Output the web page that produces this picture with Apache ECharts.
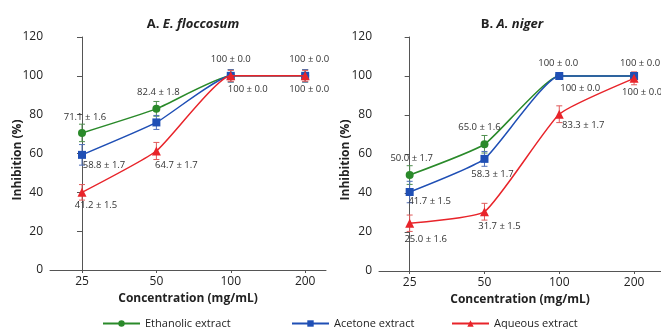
<!DOCTYPE html>
<html>
<head>
<meta charset="utf-8">
<script src="https://cdn.jsdelivr.net/npm/echarts@6/dist/echarts.min.js"></script>
<style>
    html, body { margin: 0; padding: 0; background: #fff; }
    #main { width: 661px; height: 329px; }
</style>
</head>
<body>
<div id="main"></div>
<script>
var concentrations = ['25', '50', '100', '200'];
var names = ['Ethanolic extract', 'Acetone extract', 'Aqueous extract'];

// A. E. floccosum
var ethA = [70.6, 83.0, 100, 100];
var aceA = [59.3, 76.0, 100, 100];
var aquA = [40.0, 61.3, 100, 100];
var ethAErr = [4.5, 3.8, 3.2, 3.2];
var aceAErr = [5.3, 3.6, 3.2, 3.2];
var aquAErr = [4.0, 4.4, 2.8, 2.8];
var ethALbl = ['71.1 ± 1.6', '82.4 ± 1.8', '100 ± 0.0', '100 ± 0.0'];
var aceALbl = ['58.8 ± 1.7', '', '100 ± 0.0', '100 ± 0.0'];
var aquALbl = ['41.2 ± 1.5', '64.7 ± 1.7', '', ''];

// B. A. niger
var ethB = [49.2, 65.0, 100, 100];
var aceB = [40.5, 57.5, 100, 100];
var aquB = [24.5, 30.4, 80.4, 98.8];
var ethBErr = [4.8, 4.5, 0, 0];
var aceBErr = [5.5, 3.8, 0, 0];
var aquBErr = [4.2, 4.3, 4.3, 3.3];
var ethBLbl = ['50.0 ± 1.7', '65.0 ± 1.6', '100 ± 0.0', '100 ± 0.0'];
var aceBLbl = ['41.7 ± 1.5', '58.3 ± 1.7', '100 ± 0.0', ''];
var aquBLbl = ['25.0 ± 1.6', '31.7 ± 1.5', '83.3 ± 1.7', '100 ± 0.0'];

// label offsets (px) from the marker centre
var offA = [
    [[3, -16], [2, -17], [0, -17], [4, -17]],
    [[22, 10], [0, 0], [17, 13], [4, 13]],
    [[14, 13], [20, 14], [0, 0], [0, 0]]
];
var offB = [
    [[2, -17], [-5, -17], [-1, -13], [6, -13]],
    [[20, 9], [8, 15], [21, 12], [0, 0]],
    [[16, 16], [15, 15], [24, 11], [8, 14]]
];

var colors = ['#2a8a2a', '#1f4fb5', '#e8242a'];
var errColors = ['#4f8f4f', '#4f6fb8', '#e05a5a'];
var symbols = ['circle', 'rect', 'triangle'];
var legendLeft = [97, 286, 446];
var font = '"Open Sans", "DejaVu Sans", sans-serif';

var chart = echarts.init(document.getElementById('main'));

function lineSeries(idx, gi, vals, lbls, offs) {
    return {
        name: names[idx],
        type: 'line',
        xAxisIndex: gi,
        yAxisIndex: gi,
        smooth: 0.15,
        symbol: symbols[idx],
        symbolSize: idx == 2 ? 9 : 8,
        color: colors[idx],
        lineStyle: { width: 1.5, color: colors[idx] },
        itemStyle: { color: colors[idx] },
        z: 3 + idx,
        data: vals.map(function(v, i) {
            return {
                value: [i, v],
                label: {
                    show: lbls[i] !== '',
                    formatter: lbls[i],
                    position: 'inside',
                    offset: offs[i],
                    color: '#333',
                    fontSize: 9.5,
                    fontFamily: font
                }
            };
        })
    };
}

function errRender(params, api) {
    var x = api.value(0);
    var lo = api.value(1);
    var hi = api.value(2);
    if (hi - lo <= 0) return null;
    var a = api.coord([x, hi]);
    var b = api.coord([x, lo]);
    var w = 3;
    var st = { stroke: api.visual('color'), lineWidth: 1 };
    return {
        type: 'group',
        children: [
            { type: 'line', shape: { x1: a[0], y1: a[1], x2: b[0], y2: b[1] }, style: st },
            { type: 'line', shape: { x1: a[0] - w, y1: a[1], x2: a[0] + w, y2: a[1] }, style: st },
            { type: 'line', shape: { x1: b[0] - w, y1: b[1], x2: b[0] + w, y2: b[1] }, style: st }
        ]
    };
}

function errSeries(idx, gi, vals, errs) {
    return {
        type: 'custom',
        name: names[idx] + ' err',
        xAxisIndex: gi,
        yAxisIndex: gi,
        itemStyle: { color: errColors[idx] },
        z: 2,
        silent: true,
        renderItem: errRender,
        data: vals.map(function(v, i) {
            return [i, v - errs[i], v + errs[i]];
        })
    };
}

function xAxisOpt(gi, min, max) {
    return {
        type: 'value',
        gridIndex: gi,
        min: min,
        max: max,
        name: 'Concentration (mg/mL)',
        nameLocation: 'middle',
        nameGap: 20,
        nameTextStyle: { color: '#222', fontSize: 12, fontWeight: 'bold', fontFamily: font },
        axisLine: { show: true, lineStyle: { color: '#555', width: 1 } },
        axisTick: { show: true, length: 3, customValues: [0, 1, 2, 3], lineStyle: { color: '#555' } },
        axisLabel: {
            customValues: [0, 1, 2, 3],
            formatter: function(v) { return concentrations[Math.round(v)]; },
            color: '#222',
            fontSize: 12,
            margin: 6,
            fontFamily: font
        },
        splitLine: { show: false }
    };
}

function yAxisOpt(gi) {
    return {
        type: 'value',
        gridIndex: gi,
        min: 0,
        max: 120,
        interval: 20,
        axisLine: { show: true, lineStyle: { color: '#555', width: 1 } },
        axisTick: { show: true, length: 5, lineStyle: { color: '#555' } },
        axisLabel: { color: '#222', fontSize: 12, margin: 7, fontFamily: font },
        splitLine: { show: false }
    };
}

// y axis titles, a bit below the axis middle as in the figure
function yName(x, y) {
    return {
        type: 'text',
        x: x,
        y: y,
        rotation: Math.PI / 2,
        style: {
            text: 'Inhibition (%)',
            fill: '#222',
            font: 'bold 12px ' + font,
            textAlign: 'center',
            textVerticalAlign: 'middle'
        }
    };
}

var titleRich = {
    b: { fontWeight: 'bold', fontSize: 13, color: '#222', fontFamily: font },
    bi: { fontWeight: 'bold', fontStyle: 'italic', fontSize: 13, color: '#222', fontFamily: font }
};

var option = {
    backgroundColor: '#fff',
    animation: false,
    title: [{
        text: '{b|A. }{bi|E. floccosum}',
        left: 188,
        top: 13,
        textAlign: 'center',
        textStyle: { rich: titleRich }
    }, {
        text: '{b|B. }{bi|A. niger}',
        left: 507,
        top: 13,
        textAlign: 'center',
        textStyle: { rich: titleRich }
    }],
    graphic: [yName(18, 160), yName(346, 160)],
    legend: names.map(function(n, i) {
        return {
            data: [n],
            left: legendLeft[i],
            top: 313,
            itemWidth: 37,
            itemHeight: 8,
            textStyle: { color: '#222', fontSize: 11, fontFamily: font }
        };
    }),
    grid: [
        { left: 50, top: 37, width: 276, height: 233 },
        { left: 379, top: 37, width: 285, height: 234 }
    ],
    xAxis: [xAxisOpt(0, -0.43, 3.28), xAxisOpt(1, -0.41, 3.36)],
    yAxis: [yAxisOpt(0), yAxisOpt(1)],
    series: [
        errSeries(0, 0, ethA, ethAErr),
        errSeries(1, 0, aceA, aceAErr),
        errSeries(2, 0, aquA, aquAErr),
        lineSeries(0, 0, ethA, ethALbl, offA[0]),
        lineSeries(1, 0, aceA, aceALbl, offA[1]),
        lineSeries(2, 0, aquA, aquALbl, offA[2]),
        errSeries(0, 1, ethB, ethBErr),
        errSeries(1, 1, aceB, aceBErr),
        errSeries(2, 1, aquB, aquBErr),
        lineSeries(0, 1, ethB, ethBLbl, offB[0]),
        lineSeries(1, 1, aceB, aceBLbl, offB[1]),
        lineSeries(2, 1, aquB, aquBLbl, offB[2])
    ]
};

chart.setOption(option);
</script>
</body>
</html>
